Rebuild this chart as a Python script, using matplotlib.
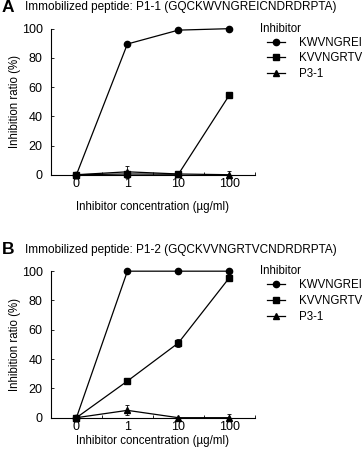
import matplotlib
matplotlib.use("Agg")
import matplotlib.pyplot as plt
from matplotlib.lines import Line2D
import numpy as np

plt.rcParams["font.family"] = ["Liberation Sans", "DejaVu Sans"]

concentrations = ["0", "1", "10", "100"]
series_names = ["KWVNGREI", "KVVNGRTV", "P3-1"]
markers = ["o", "s", "^"]

# panel A: immobilized P1-1
a_kwv = [0, 89.5, 99, 100]
a_kwv_err = [0, 0.8, 0.8, 0.5]
a_kvv = [0, 0.5, 0.3, 54.5]
a_kvv_err = [0, 1.0, 0.5, 1.5]
a_p31 = [0, 2.0, 0.5, 0]
a_p31_err = [0, 4.0, 0.5, 2.5]

# panel B: immobilized P1-2
b_kwv = [0, 100, 100, 100]
b_kwv_err = [0, 0.5, 0.5, 0.5]
b_kvv = [0, 25, 51, 95.5]
b_kvv_err = [0, 1.0, 3.0, 1.5]
b_p31 = [0, 5.0, 0, 0]
b_p31_err = [0, 3.5, 0.5, 2.5]

panels = [
    ("A", "Immobilized peptide: P1-1 (GQCKWVNGREICNDRDRPTA)",
     [(a_kwv, a_kwv_err), (a_kvv, a_kvv_err), (a_p31, a_p31_err)], 7.5),
    ("B", "Immobilized peptide: P1-2 (GQCKVVNGRTVCNDRDRPTA)",
     [(b_kwv, b_kwv_err), (b_kvv, b_kvv_err), (b_p31, b_p31_err)], 1.5),
]

fig = plt.figure(figsize=(3.64, 4.55), dpi=100)
axes_rects = [[0.140, 0.616, 0.560, 0.321], [0.140, 0.082, 0.560, 0.322]]
fs_tick = 9
fs_lab = 8.3

for rect, (letter, title, data, xpad) in zip(axes_rects, panels):
    ax = fig.add_axes(rect)
    x = np.arange(len(concentrations))
    for (vals, err), name, mk in zip(data, series_names, markers):
        ax.errorbar(x, vals, yerr=err, color="black", marker=mk, ms=4.5 if mk != "^" else 4,
                    lw=0.9, elinewidth=0.6, capsize=1.5, capthick=0.6,
                    clip_on=False, zorder=3)
    ax.set_xlim(-0.5, 3.5)
    ax.set_ylim(0, 100)
    ax.set_yticks([0, 20, 40, 60, 80, 100])
    ax.set_xticks(x)
    ax.set_xticklabels(concentrations)
    ax.set_xticks(np.arange(0.5, 3.6, 1.0), minor=True)
    ax.tick_params(axis="x", which="major", length=0, labelsize=fs_tick, pad=2.5)
    ax.tick_params(axis="x", which="minor", direction="in", length=2.5, width=0.6)
    ax.tick_params(axis="y", direction="in", length=2.5, width=0.6, labelsize=fs_tick, pad=6)
    for s in ["top", "right"]:
        ax.spines[s].set_visible(False)
    for s in ["left", "bottom"]:
        ax.spines[s].set_linewidth(0.8)
    ax.set_xlabel("Inhibitor concentration (\u00b5g/ml)", fontsize=fs_lab, labelpad=xpad)
    ax.set_ylabel("Inhibition ratio (%)", fontsize=fs_lab, labelpad=0.5)

    ax.text(-0.24, 1.145, letter, transform=ax.transAxes, fontsize=12.5, fontweight="bold",
            va="center", ha="left")
    ax.text(-0.125, 1.145, title, transform=ax.transAxes, fontsize=8.5, va="center", ha="left")

    ax.text(1.025, 1.0, "Inhibitor", transform=ax.transAxes, fontsize=fs_lab,
            va="center", ha="left")
    handles = [Line2D([], [], color="black", marker=mk, ms=4.5 if mk != "^" else 4, lw=0.9)
               for mk in markers]
    ax.legend(handles=handles, labels=series_names, loc="upper left",
              bbox_to_anchor=(1.06, 0.945), frameon=False, fontsize=fs_lab,
              handlelength=1.6, handletextpad=1.2, labelspacing=0.32, borderaxespad=0.0,
              borderpad=0.0)

fig.savefig("out.png", dpi=100)
